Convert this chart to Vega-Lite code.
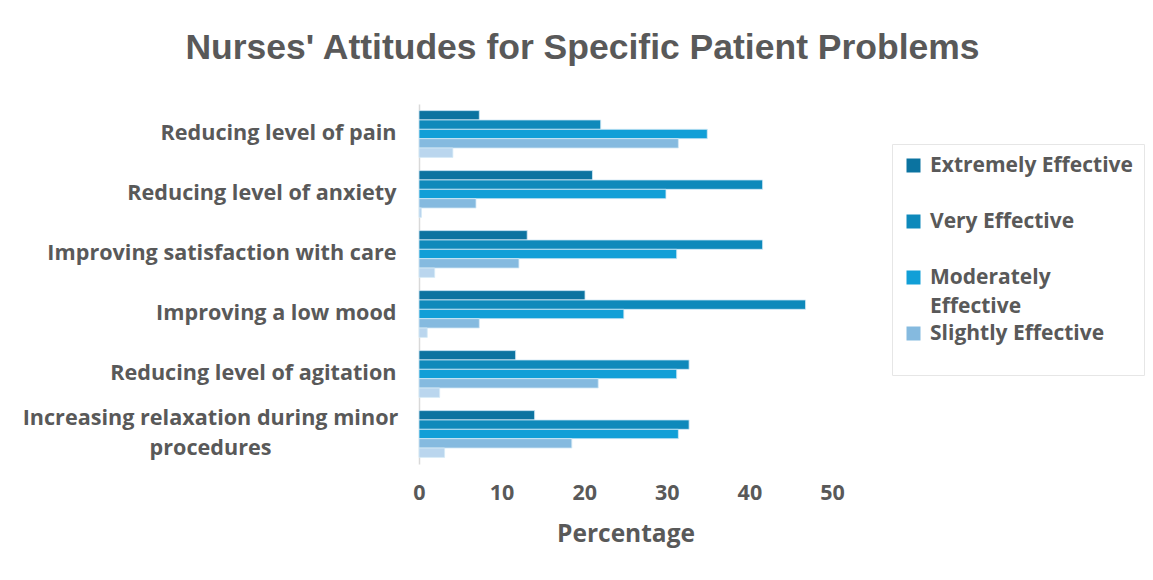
{
  "$schema": "https://vega.github.io/schema/vega-lite/v6.json",
  "autosize": "none",
  "width": 413,
  "height": 360,
  "padding": {"left": 419, "top": 104, "right": 321, "bottom": 116},
  "background": "white",
  "title": {
    "text": "Nurses' Attitudes for Specific Patient Problems",
    "font": "Liberation Sans",
    "fontSize": 35.5,
    "fontWeight": "bold",
    "color": "#595959",
    "anchor": "middle",
    "dx": -43,
    "offset": 38
  },
  "data": {
    "values": [
      {"problem": "Reducing level of pain", "rating": "Extremely Effective", "pct": 7.3},
      {"problem": "Reducing level of pain", "rating": "Very Effective", "pct": 22.0},
      {"problem": "Reducing level of pain", "rating": "Moderately Effective", "pct": 34.9},
      {"problem": "Reducing level of pain", "rating": "Slightly Effective", "pct": 31.4},
      {"problem": "Reducing level of pain", "rating": "Not Effective", "pct": 4.1},
      {"problem": "Reducing level of anxiety", "rating": "Extremely Effective", "pct": 21.0},
      {"problem": "Reducing level of anxiety", "rating": "Very Effective", "pct": 41.6},
      {"problem": "Reducing level of anxiety", "rating": "Moderately Effective", "pct": 29.9},
      {"problem": "Reducing level of anxiety", "rating": "Slightly Effective", "pct": 6.9},
      {"problem": "Reducing level of anxiety", "rating": "Not Effective", "pct": 0.3},
      {"problem": "Improving satisfaction with care", "rating": "Extremely Effective", "pct": 13.1},
      {"problem": "Improving satisfaction with care", "rating": "Very Effective", "pct": 41.6},
      {"problem": "Improving satisfaction with care", "rating": "Moderately Effective", "pct": 31.2},
      {"problem": "Improving satisfaction with care", "rating": "Slightly Effective", "pct": 12.1},
      {"problem": "Improving satisfaction with care", "rating": "Not Effective", "pct": 1.9},
      {"problem": "Improving a low mood", "rating": "Extremely Effective", "pct": 20.1},
      {"problem": "Improving a low mood", "rating": "Very Effective", "pct": 46.8},
      {"problem": "Improving a low mood", "rating": "Moderately Effective", "pct": 24.8},
      {"problem": "Improving a low mood", "rating": "Slightly Effective", "pct": 7.3},
      {"problem": "Improving a low mood", "rating": "Not Effective", "pct": 1.0},
      {"problem": "Reducing level of agitation", "rating": "Extremely Effective", "pct": 11.7},
      {"problem": "Reducing level of agitation", "rating": "Very Effective", "pct": 32.7},
      {"problem": "Reducing level of agitation", "rating": "Moderately Effective", "pct": 31.2},
      {"problem": "Reducing level of agitation", "rating": "Slightly Effective", "pct": 21.7},
      {"problem": "Reducing level of agitation", "rating": "Not Effective", "pct": 2.5},
      {"problem": "Increasing relaxation during minor procedures", "rating": "Extremely Effective", "pct": 14.0},
      {"problem": "Increasing relaxation during minor procedures", "rating": "Very Effective", "pct": 32.7},
      {"problem": "Increasing relaxation during minor procedures", "rating": "Moderately Effective", "pct": 31.4},
      {"problem": "Increasing relaxation during minor procedures", "rating": "Slightly Effective", "pct": 18.5},
      {"problem": "Increasing relaxation during minor procedures", "rating": "Not Effective", "pct": 3.1}
    ]
  },
  "mark": {"type": "bar", "stroke": "#d4eaf6", "strokeWidth": 0.8},
  "encoding": {
    "y": {
      "field": "problem",
      "type": "nominal",
      "sort": null,
      "scale": {"paddingInner": 0.22, "paddingOuter": 0.11},
      "axis": {
        "title": null,
        "ticks": false,
        "domainColor": "#d9d9d9",
        "domainWidth": 1.5,
        "labelFont": "Open Sans",
        "labelFontSize": 21.6,
        "labelFontWeight": "bold",
        "labelColor": "#595959",
        "labelLimit": 500,
        "labelLineHeight": 30,
        "labelPadding": {"condition": {"test": "datum.value === 'Increasing relaxation during minor procedures'", "value": 209}, "value": 23},
        "labelAlign": {"condition": {"test": "datum.value === 'Increasing relaxation during minor procedures'", "value": "center"}, "value": "right"},
        "labelOffset": {"condition": {"test": "datum.value === 'Increasing relaxation during minor procedures'", "value": -15}, "value": 0},
        "labelExpr": "datum.value === 'Increasing relaxation during minor procedures' ? ['Increasing relaxation during minor', 'procedures'] : datum.value"
      }
    },
    "yOffset": {
      "field": "rating",
      "type": "nominal",
      "sort": ["Extremely Effective", "Very Effective", "Moderately Effective", "Slightly Effective", "Not Effective"],
      "scale": {"paddingInner": 0, "paddingOuter": 0}
    },
    "x": {
      "field": "pct",
      "type": "quantitative",
      "scale": {"domain": [0, 50]},
      "axis": {
        "title": "Percentage",
        "values": [0, 10, 20, 30, 40, 50],
        "grid": false,
        "domain": false,
        "ticks": false,
        "labelFlush": false,
        "labelFont": "Open Sans",
        "labelFontSize": 21.5,
        "labelFontWeight": "bold",
        "labelColor": "#595959",
        "labelPadding": 18,
        "titleFont": "Open Sans",
        "titleFontSize": 24.5,
        "titleFontWeight": "bold",
        "titleColor": "#595959",
        "titlePadding": 19
      }
    },
    "color": {
      "field": "rating",
      "type": "nominal",
      "scale": {
        "domain": ["Extremely Effective", "Very Effective", "Moderately Effective", "Slightly Effective", "Not Effective"],
        "range": ["#0b73a0", "#0e89bb", "#119fd7", "#85badf", "#bad6ee"]
      },
      "legend": {
        "values": ["Extremely Effective", "Very Effective", "Moderately Effective", "Slightly Effective"],
        "title": " ",
        "titleOrient": "bottom",
        "titleFontSize": 10,
        "titlePadding": 10,
        "orient": "none",
        "legendX": 473,
        "legendY": 40,
        "padding": 11,
        "strokeColor": "#e6e6e6",
        "fillColor": "white",
        "symbolType": "square",
        "symbolSize": 196,
        "symbolStrokeWidth": 0,
        "labelFont": "Open Sans",
        "labelFontSize": 21,
        "labelFontWeight": "bold",
        "labelColor": "#595959",
        "labelLimit": 400,
        "labelOffset": 6,
        "labelBaseline": "middle",
        "gridAlign": "all",
        "rowPadding": 5,
        "labelExpr": "datum.label === 'Moderately Effective' ? ['Moderately', 'Effective'] : datum.label"
      }
    }
  },
  "config": {
    "view": {"stroke": null},
    "style": {"guide-label": {"lineHeight": 29}}
  }
}
